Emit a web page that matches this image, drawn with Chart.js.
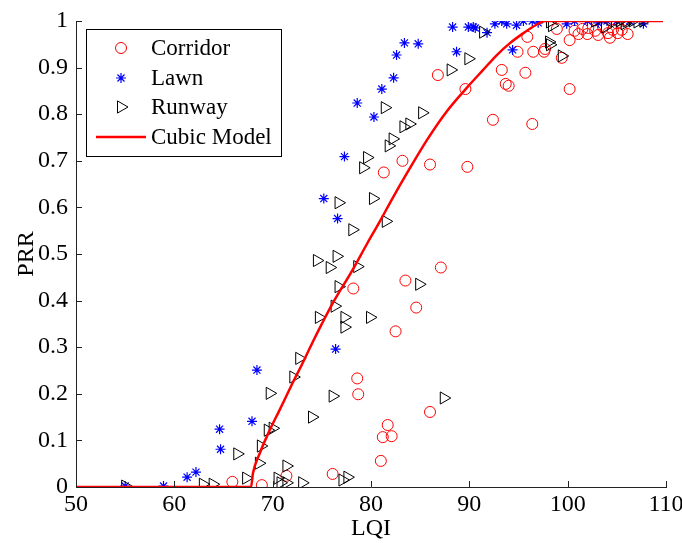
<!DOCTYPE html>
<html>
<head>
<meta charset="utf-8">
<script src="https://cdn.jsdelivr.net/npm/chart.js@4.4.1/dist/chart.umd.min.js"></script>
<style>
  html, body { margin: 0; padding: 0; background: #fff; }
  #wrap { width: 682px; height: 543px; position: relative; }
</style>
</head>
<body>
<div id="wrap"><canvas id="myChart"></canvas></div>
<script>
// values
const corridorLQI = [65.9, 68.9, 71.4, 76.1, 78.2, 78.6, 78.7, 81.0, 81.2, 81.3, 81.7, 82.1, 82.5, 83.2, 83.5, 84.6, 86.0, 86.0, 86.8, 87.1,
    89.6, 89.8, 92.4, 93.3, 93.7, 94.0, 94.9, 95.7, 95.9, 96.4, 96.5, 97.6, 97.7, 98.9, 99.4, 100.2, 100.2, 100.7, 101.1, 101.5,
    102.0, 102.1, 102.8, 103.1, 103.6, 104.1, 104.3, 104.6, 105.0, 105.1, 105.5, 106.1];
const corridorPRR = [0.011, 0.004, 0.024, 0.028, 0.426, 0.233, 0.199, 0.056, 0.107, 0.675, 0.133, 0.109, 0.334, 0.700, 0.443, 0.385, 0.692, 0.161, 0.884, 0.471,
    0.854, 0.687, 0.788, 0.895, 0.865, 0.861, 0.934, 0.889, 0.966, 0.779, 0.934, 0.934, 0.940, 0.983, 0.921, 0.959, 0.854, 0.979, 0.972, 0.983,
    0.972, 0.985, 0.979, 0.970, 0.987, 0.974, 0.964, 0.981, 0.995, 0.974, 0.981, 0.972];

const lawnLQI = [55.0, 58.9, 61.3, 62.2, 64.6, 64.7, 67.9, 68.4, 75.2, 76.4, 76.6, 77.3, 78.6, 80.3, 81.1, 82.3, 82.6, 83.4, 84.8, 88.3,
    88.7, 89.9, 90.4, 90.6, 91.8, 92.6, 93.3, 93.8, 94.4, 94.8, 95.5, 96.4, 97.0, 99.9, 100.7, 102.0, 103.1, 104.0, 105.0, 106.3, 107.7];
const lawnPRR = [0.002, 0.002, 0.021, 0.032, 0.124, 0.081, 0.141, 0.251, 0.619, 0.296, 0.576, 0.709, 0.824, 0.794, 0.854, 0.878, 0.927, 0.953, 0.951, 0.987,
    0.934, 0.987, 0.987, 0.985, 0.975, 0.994, 1.0, 0.994, 0.938, 0.991, 1.0, 1.0, 0.996, 0.994, 1.0, 1.0, 0.996, 1.0, 1.0, 1.0, 0.994];

const runwayLQI = [55.0, 62.9, 63.9, 66.4, 67.3, 68.6, 68.8, 69.5, 70.0, 69.7, 70.5, 70.8, 71.4, 71.4, 72.1, 72.7, 73.0, 74.0, 74.5, 74.7,
    75.8, 76.1, 76.3, 76.5, 76.7, 76.7, 77.1, 77.3, 77.3, 77.6, 78.1, 78.6, 79.2, 79.6, 79.9, 80.2, 81.5, 81.4, 81.8, 82.2,
    83.3, 83.9, 84.9, 85.2, 87.4, 88.1, 89.9, 91.4, 98.2, 98.4, 98.1, 98.2, 99.4, 102.8, 103.8, 104.8, 105.3, 106.0, 106.6, 107.1,
    107.7, 105.8];
const runwayPRR = [0.002, 0.006, 0.006, 0.071, 0.019, 0.051, 0.088, 0.122, 0.126, 0.201, 0.019, 0.009, 0.045, 0.009, 0.236, 0.276, 0.009, 0.150, 0.486, 0.364,
    0.471, 0.195, 0.388, 0.495, 0.430, 0.610, 0.015, 0.364, 0.343, 0.021, 0.552, 0.473, 0.685, 0.707, 0.364, 0.619, 0.570, 0.814, 0.732, 0.747,
    0.773, 0.779, 0.435, 0.803, 0.191, 0.895, 0.919, 0.976, 0.998, 0.990, 0.955, 0.949, 0.925, 1.0, 0.987, 1.0, 1.0, 1.0, 1.0, 0.998,
    1.0, 0.994];

const cubicLQI = [50, 67.8, 68.0, 68.7, 69.7, 70.7, 72.0, 73.0, 74.0, 75.0, 76.1, 78.1, 79.6, 80.9, 82.2, 83.7, 85.7, 87.7, 89.8, 91.4,
    92.8, 94.1, 95.5, 96.9, 97.7, 109.7];
const cubicPRR = [0, 0, 0.03, 0.073, 0.122, 0.165, 0.222, 0.264, 0.308, 0.35, 0.394, 0.465, 0.522, 0.57, 0.62, 0.675, 0.745, 0.806, 0.858, 0.895,
    0.927, 0.952, 0.974, 0.993, 1.0, 1.0];

const xTickLabels = ['50', '60', '70', '80', '90', '100', '110'];
const yTickLabels = ['0', '0.1', '0.2', '0.3', '0.4', '0.5', '0.6', '0.7', '0.8', '0.9', '1'];

const FONT = "'Liberation Serif', 'Times New Roman', serif";

let pts = (xs, ys) => xs.map((x, i) => ({x: x, y: ys[i]}));

// matlab style ticks pointing into the axes
const innerTicks = {
    id: 'innerTicks',
    afterDraw(chart) {
        const ctx = chart.ctx, a = chart.chartArea;
        const xs = chart.scales.x, ys = chart.scales.y;
        ctx.save();
        ctx.strokeStyle = '#222';
        ctx.lineWidth = 1;
        ctx.beginPath();
        xs.ticks.forEach(t => {
            const px = Math.round(xs.getPixelForValue(t.value)) + 0.5;
            ctx.moveTo(px, a.bottom);
            ctx.lineTo(px, a.bottom - 6);
        });
        ys.ticks.forEach(t => {
            const py = Math.round(ys.getPixelForValue(t.value)) + 0.5;
            ctx.moveTo(a.left, py);
            ctx.lineTo(a.left + 6, py);
        });
        ctx.stroke();
        ctx.restore();
    }
};

// legend box in the upper left corner of the axes
const boxLegend = {
    id: 'boxLegend',
    afterDraw(chart) {
        const ctx = chart.ctx, a = chart.chartArea;
        const bx = a.left + 10, by = a.top + 8, bw = 195, bh = 127;
        ctx.save();
        ctx.fillStyle = '#fff';
        ctx.fillRect(bx, by, bw, bh);
        ctx.strokeStyle = '#000';
        ctx.lineWidth = 1;
        ctx.strokeRect(bx + 0.5, by + 0.5, bw, bh);
        const mx = bx + 35, tx = bx + 65;
        const rows = [by + 19, by + 49, by + 78, by + 108];
        // circle
        ctx.strokeStyle = 'red';
        ctx.beginPath();
        ctx.arc(mx, rows[0], 5.5, 0, Math.PI * 2);
        ctx.stroke();
        // star
        ctx.strokeStyle = 'blue';
        ctx.lineWidth = 1.2;
        ctx.beginPath();
        for (let k = 0; k < 4; k++) {
            const ang = k * Math.PI / 4;
            ctx.moveTo(mx - 5 * Math.cos(ang), rows[1] - 5 * Math.sin(ang));
            ctx.lineTo(mx + 5 * Math.cos(ang), rows[1] + 5 * Math.sin(ang));
        }
        ctx.stroke();
        // triangle
        ctx.strokeStyle = '#000';
        ctx.lineWidth = 1;
        ctx.beginPath();
        ctx.moveTo(mx + 7, rows[2]);
        ctx.lineTo(mx - 3.5, rows[2] - 6.06);
        ctx.lineTo(mx - 3.5, rows[2] + 6.06);
        ctx.closePath();
        ctx.stroke();
        // line
        ctx.strokeStyle = 'red';
        ctx.lineWidth = 2.5;
        ctx.beginPath();
        ctx.moveTo(bx + 10, rows[3]);
        ctx.lineTo(bx + 60, rows[3]);
        ctx.stroke();
        ctx.fillStyle = '#000';
        ctx.font = '23px ' + FONT;
        ctx.textBaseline = 'middle';
        chart.data.datasets.slice().sort((p, q) => p.legendIndex - q.legendIndex).forEach((ds, i) => {
            ctx.fillText(ds.label, tx, rows[i] + 1);
        });
        ctx.restore();
    }
};

const data = {
    datasets: [
        {
            label: 'Cubic Model', legendIndex: 3, order: 0,
            data: pts(cubicLQI, cubicPRR),
            showLine: true, borderColor: 'red', borderWidth: 2.5,
            pointRadius: 0, fill: false, cubicInterpolationMode: 'monotone'
        },
        {
            label: 'Runway', legendIndex: 2, order: 1,
            data: pts(runwayLQI, runwayPRR),
            pointStyle: 'triangle', pointRotation: 90, pointRadius: 7,
            borderColor: '#000', backgroundColor: 'rgba(0,0,0,0)', borderWidth: 1
        },
        {
            label: 'Lawn', legendIndex: 1, order: 2,
            data: pts(lawnLQI, lawnPRR),
            pointStyle: 'star', pointRadius: 5,
            borderColor: 'blue', backgroundColor: 'rgba(0,0,0,0)', borderWidth: 1.2
        },
        {
            label: 'Corridor', legendIndex: 0, order: 3,
            data: pts(corridorLQI, corridorPRR),
            pointStyle: 'circle', pointRadius: 5.5,
            borderColor: 'red', backgroundColor: 'rgba(0,0,0,0)', borderWidth: 1
        }
    ]
};

const config = {
    type: 'scatter',
    data: data,
    options: {
        responsive: true,
        maintainAspectRatio: false,
        animation: false,
        layout: { padding: { top: 21, right: 16, left: 0, bottom: 0 } },
        plugins: { legend: { display: false }, tooltip: { enabled: false } },
        scales: {
            x: {
                type: 'linear', min: 50, max: 110,
                afterFit: s => { s.height = 56; s.paddingLeft = 0; s.paddingRight = 0; },
                ticks: {
                    stepSize: 10, color: '#000', padding: 3,
                    font: { family: FONT, size: 24 },
                    callback: v => xTickLabels[Math.round((v - 50) / 10)]
                },
                grid: { drawOnChartArea: false, drawTicks: false },
                border: { display: true, color: '#222', width: 1 },
                title: { display: true, text: 'LQI', color: '#000', font: { family: FONT, size: 24 }, padding: { top: 0, bottom: 0 } }
            },
            y: {
                type: 'linear', min: 0, max: 1,
                afterFit: s => { s.width = 76; s.paddingTop = 0; s.paddingBottom = 0; },
                ticks: {
                    stepSize: 0.1, color: '#000', padding: 8,
                    font: { family: FONT, size: 24 },
                    callback: v => yTickLabels[Math.round(v * 10)]
                },
                grid: { drawOnChartArea: false, drawTicks: false },
                border: { display: true, color: '#222', width: 1 },
                title: { display: true, text: 'PRR', color: '#000', font: { family: FONT, size: 24 }, padding: { top: 12, bottom: 0 } }
            }
        }
    },
    plugins: [innerTicks, boxLegend]
};

const myChart = new Chart(document.getElementById('myChart'), config);
</script>
</body>
</html>
